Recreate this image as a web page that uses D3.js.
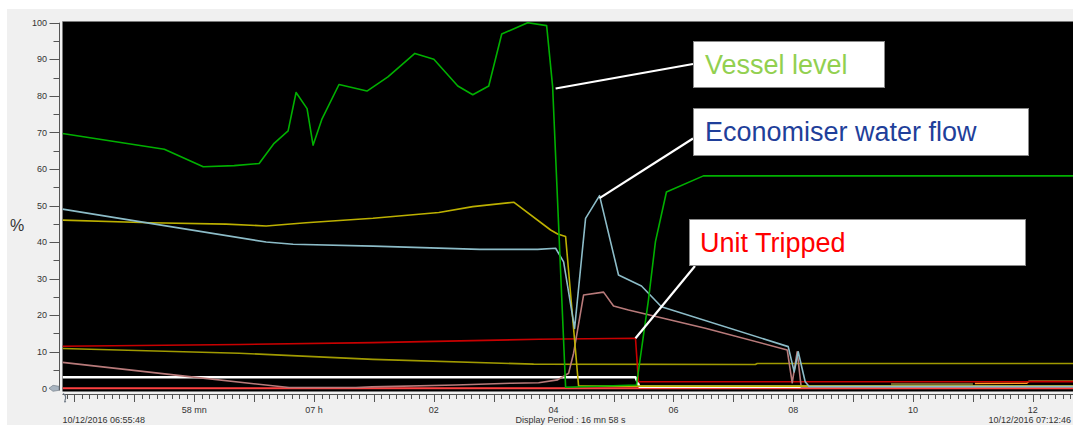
<!DOCTYPE html>
<html><head><meta charset="utf-8">
<script src="https://cdn.jsdelivr.net/npm/d3@7/dist/d3.min.js"></script>
<style>
html,body{margin:0;padding:0;background:#fff;}
svg{display:block;}
text{font-family:"Liberation Sans",Arial,sans-serif;}
</style></head>
<body>
<svg id="chart" width="1073" height="425"></svg>
<script>
// ---- data: time in seconds since 10/12/2016 06:55:48, value in % ----
const periodSeconds = 1018;
const startLabel = "10/12/2016 06:55:48";
const endLabel = "10/12/2016 07:12:46";
const periodLabel = "Display Period : 16 mn 58 s";
const xTickLabels = ["58 mn", "07 h", "02", "04", "06", "08", "10", "12"];
const xTickSeconds = [132, 252, 372, 492, 612, 732, 852, 972];
const yTickValues = [0, 10, 20, 30, 40, 50, 60, 70, 80, 90, 100];
const yAxisTitle = "%";

const vesselLevel = [[0,69.7],[102,65.4],[141,60.6],[172,60.9],[197,61.5],[212,67.0],[226,70.4],[234,80.9],[245,76.5],[251,66.5],[260,73.7],[277,83.1],[305,81.3],[326,85.2],[353,91.6],[372,90.0],[396,82.7],[411,80.3],[427,82.7],[440,96.9],[466,100],[485,99.2],[491,82.5],[504,0.3],[575,0.9],[587,24.2],[594,40.1],[605,53.7],[642,58.1],[1030,58.1]];
const economiserFlow = [[0,49.0],[88,45.1],[204,40.0],[231,39.4],[311,38.9],[418,38.0],[476,38.0],[494,38.3],[502,34.6],[513,16.4],[524,46.5],[538,52.7],[557,31.0],[580,28.0],[600,22.3],[727,11.4],[733,4.5],[737,10.0],[744,1.8],[748,0.5],[1030,0.5]];
const feedwaterDemand = [[0,46.0],[88,45.3],[164,44.9],[204,44.4],[244,45.3],[311,46.5],[377,48.1],[411,49.7],[452,50.9],[489,43.3],[496,42.2],[504,41.5],[517,0.6],[1030,0.6]];
const unitLoad = [[0,11.5],[178,12.0],[311,12.5],[477,13.4],[574,13.7],[577,1.8],[1030,1.8]];
const pressureSignal = [[0,10.9],[177,9.6],[311,7.9],[472,6.6],[694,6.5],[696,6.8],[1030,6.8]];
const drainFlow = [[0,7.1],[127,3.2],[227,0.2],[294,0.2],[310,0.4],[394,0.9],[450,1.4],[477,1.5],[496,2.3],[507,4.1],[512,9.6],[516,16.0],[522,25.5],[542,26.3],[552,22.5],[567,21.4],[644,16.4],[726,10.5],[731,1.5],[736,10.0],[740,0.3],[1030,0.3]];
const runSignal = [[0,3.0],[574,3.0],[578,0.4],[1030,0.4]];
const tripSignal = [[0,0],[1030,0]];
const auxOrange = [[914,1.3],[966,1.4],[968,1.9],[1030,1.9]];
const auxOlive = [[830,1.2],[912,1.2]];
const auxPink = [[818,0.4],[866,0.4]];

const series = [
  {data: tripSignal, color: "#ff4040", width: 2},
  {data: auxPink, color: "#ffa0a0", width: 1.5},
  {data: runSignal, color: "#ffffff", width: 2.5},
  {data: auxOlive, color: "#8c8c40", width: 1.5},
  {data: auxOrange, color: "#ff9a20", width: 1.5},
  {data: pressureSignal, color: "#a09a00", width: 1.6},
  {data: unitLoad, color: "#c80000", width: 1.6},
  {data: drainFlow, color: "#b87a7a", width: 1.6},
  {data: feedwaterDemand, color: "#bcb000", width: 1.6},
  {data: economiserFlow, color: "#8cbcc8", width: 1.6},
  {data: vesselLevel, color: "#00b000", width: 1.6}
];

const annotations = [
  {text: "Vessel level", color: "#92d050", anchor: [494, 82], box: [693, 41, 191, 46], tx: 705, ty: 74},
  {text: "Economiser water flow", color: "#1f3f9a", anchor: [538, 52], box: [693, 108, 335, 47], tx: 705, ty: 141},
  {text: "Unit Tripped", color: "#ff0000", anchor: [574, 13.7], box: [689, 219, 336, 46], tx: 700, ty: 252}
];

// ---- drawing ----
const svg = d3.select("#chart");
const W = 1073, H = 425;
svg.append("rect").attr("width", W).attr("height", H).attr("fill", "#ffffff");
svg.append("rect").attr("x", 7).attr("y", 9).attr("width", W - 7).attr("height", H - 9).attr("fill", "#f0f0f0");

const x = d3.scaleLinear().domain([0, periodSeconds]).range([62.5, 1078.7]);
const y = d3.scaleLinear().domain([0, 100]).range([388.3, 22.7]);

const plotTop = 21.5, plotBottom = 391.5, plotLeft = 62.5;
svg.append("rect").attr("x", plotLeft).attr("y", plotTop).attr("width", W - plotLeft + 10).attr("height", plotBottom - plotTop).attr("fill", "#000");
svg.append("line").attr("x1", plotLeft).attr("x2", W).attr("y1", plotTop).attr("y2", plotTop).attr("stroke", "#7a7a7a").attr("stroke-width", 1);

svg.append("defs").append("clipPath").attr("id", "plotclip").append("rect")
  .attr("x", plotLeft).attr("y", plotTop + 0.5).attr("width", W - plotLeft).attr("height", plotBottom - plotTop - 0.5);

const line = d3.line().x(d => x(d[0])).y(d => y(d[1]));
const g = svg.append("g").attr("clip-path", "url(#plotclip)");
series.forEach(s => {
  g.append("path").attr("d", line(s.data)).attr("fill", "none")
    .attr("stroke", s.color).attr("stroke-width", s.width).attr("stroke-linejoin", "round");
});

// y axis
const yAxisX = 59.5;
svg.append("line").attr("x1", yAxisX).attr("x2", yAxisX).attr("y1", y(100)).attr("y2", plotBottom - 1).attr("stroke", "#555");
const yMinor = d3.range(0, 101, 5);
svg.selectAll(".ytick").data(yMinor).enter().append("line")
  .attr("x1", d => d % 10 === 0 ? 49.5 : 53.5).attr("x2", yAxisX)
  .attr("y1", d => Math.round(y(d)) + 0.5).attr("y2", d => Math.round(y(d)) + 0.5)
  .attr("stroke", "#555");
svg.selectAll(".ylab").data(yTickValues).enter().append("text")
  .attr("x", 47).attr("y", d => y(d) + 3.2).attr("text-anchor", "end")
  .attr("font-size", 9).attr("fill", "#333").text(d => d);
svg.append("text").attr("x", 17).attr("y", 231).attr("text-anchor", "middle")
  .attr("font-size", 16).attr("fill", "#333").text(yAxisTitle);
// small handle at zero
svg.append("path").attr("d", `M49,${y(0)} L53,${y(0)-3} L59,${y(0)-2} L59,${y(0)+2} L53,${y(0)+3} Z`)
  .attr("fill", "#a8b4c0").attr("stroke", "#6a7480").attr("stroke-width", 0.6);

// x axis
const xAxisY = 394.5;
svg.append("line").attr("x1", plotLeft).attr("x2", W).attr("y1", xAxisY).attr("y2", xAxisY).attr("stroke", "#555");
const minorTicks = d3.range(4.5, periodSeconds + 0.1, 7.5);
svg.selectAll(".xtick").data(minorTicks).enter().append("line")
  .attr("x1", d => Math.round(x(d)) + 0.5).attr("x2", d => Math.round(x(d)) + 0.5)
  .attr("y1", xAxisY).attr("y2", d => ((d - 12) % 60 === 0) ? 402 : 399)
  .attr("stroke", "#555");
svg.append("path").attr("d", `M63,${xAxisY-1} q4,2 2,7 q-1,2 1,1`).attr("fill", "none").attr("stroke", "#6a7480").attr("stroke-width", 1.2);
svg.selectAll(".xlab").data(xTickLabels).enter().append("text")
  .attr("x", (d, i) => x(xTickSeconds[i])).attr("y", 413).attr("text-anchor", "middle")
  .attr("font-size", 9).attr("fill", "#333").text(d => d);
svg.append("text").attr("x", x(0)).attr("y", 423).attr("font-size", 9).attr("fill", "#333").text(startLabel);
svg.append("text").attr("x", (x(0) + x(periodSeconds)) / 2).attr("y", 423).attr("text-anchor", "middle").attr("font-size", 9).attr("fill", "#333").text(periodLabel);
svg.append("text").attr("x", 1071).attr("y", 423).attr("text-anchor", "end").attr("font-size", 9).attr("fill", "#333").text(endLabel);

// annotations
annotations.forEach(a => {
  const [bx, by, bw, bh] = a.box;
  const ax = x(a.anchor[0]), ay = y(a.anchor[1]);
  let ex, ey;
  if (a.text === "Unit Tripped") { ex = bx + 6; ey = by + bh + 1; }
  else if (a.text === "Economiser water flow") { ex = bx; ey = by + bh * 0.65; }
  else { ex = bx; ey = by + bh * 0.5; }
  svg.append("line").attr("x1", ax).attr("y1", ay).attr("x2", ex).attr("y2", ey)
    .attr("stroke", "#fff").attr("stroke-width", 2.2);
  svg.append("rect").attr("x", bx + 0.5).attr("y", by + 0.5).attr("width", bw).attr("height", bh)
    .attr("fill", "#fff").attr("stroke", "#8a8a8a").attr("stroke-width", 1);
  svg.append("text").attr("x", a.tx).attr("y", a.ty).attr("font-size", 27).attr("fill", a.color).text(a.text);
});
</script>
</body></html>
